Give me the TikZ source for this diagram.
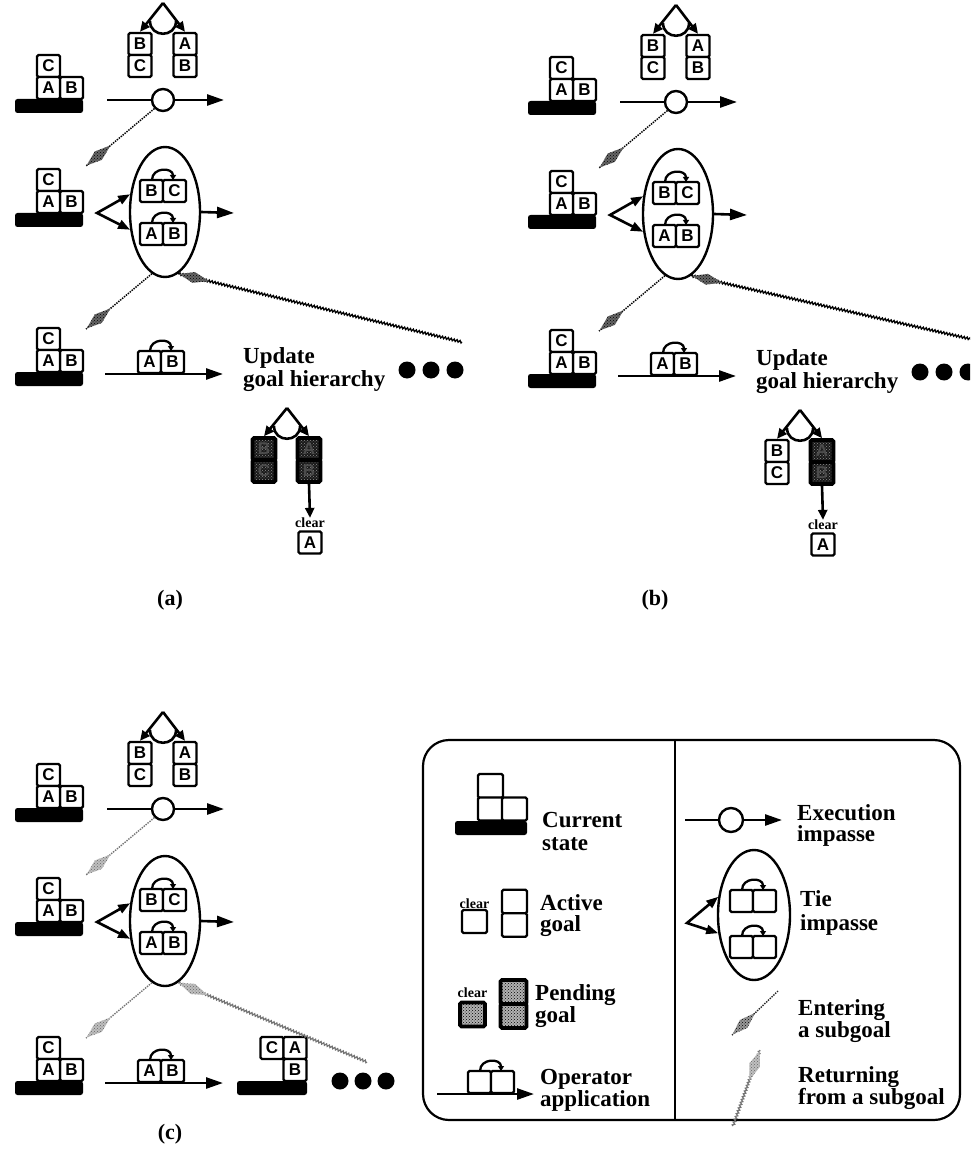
\documentclass[tikz,border=0pt]{standalone}
\usepackage{fontspec}
\setmainfont{Liberation Serif}
\newfontfamily\blockfont{Liberation Sans}
\usetikzlibrary{arrows.meta,calc,patterns,shapes.geometric,decorations.pathmorphing}

\tikzset{
  blk/.style={rectangle, draw=black, line width=2.4pt, fill=white, rounded corners=1.5pt,
    minimum width=23pt, minimum height=22pt, inner sep=0pt,
    font=\blockfont\bfseries\fontsize{17}{17}\selectfont},
  pend/.style={blk, line width=3.6pt, fill=none, preaction={fill=black!90},
    pattern=crosshatch dots, pattern color=black!45, text=black!70},
  lpend/.style={blk, line width=3.6pt, fill=none, preaction={fill=black!30},
    pattern=crosshatch dots, pattern color=black},
  tbl/.style={rectangle, fill=black, rounded corners=2.5pt, minimum width=68pt,
    minimum height=14pt, inner sep=0pt},
  circ/.style={circle, draw=black, line width=2.4pt, fill=white, minimum size=22pt, inner sep=0pt},
  tie/.style={ellipse, draw=black, line width=2.4pt, minimum width=70pt, minimum height=130pt, inner sep=0pt},
  conn/.style={line width=2.6pt},
  tip/.style={-{Triangle[length=17pt,width=11pt]}},
  fork/.style={{Triangle[length=12pt,width=9pt]}-{Triangle[length=12pt,width=9pt]}},
  ttip/.style={-{Triangle[length=10pt,width=9pt]}},
  oparc/.style={line width=2.3pt, -{Triangle[length=5pt,width=6pt]}},
  heavyline/.style={line width=1.5pt, dash pattern=on 1.4pt off 1.1pt, black},
  heavyhead/.style={preaction={fill=black!60}, pattern=crosshatch dots, pattern color=black},
  heavyzig/.style={line width=1.3pt, black, decorate, decoration={zigzag, segment length=3pt, amplitude=1.1pt}},
  midline/.style={line width=1.4pt, dash pattern=on 1.4pt off 1.1pt, black!85},
  midhead/.style={preaction={fill=black!40}, pattern=crosshatch dots, pattern color=black},
  paleline/.style={line width=1.4pt, dash pattern=on 1.4pt off 1.1pt, black!55},
  palehead/.style={preaction={fill=black!25}, pattern=crosshatch dots, pattern color=black!60},
  palezig/.style={line width=1.2pt, black!55, decorate, decoration={zigzag, segment length=3pt, amplitude=1.1pt}},
  txt/.style={font=\bfseries\fontsize{23}{23}\selectfont, anchor=base west, inner sep=0pt},
  clr/.style={font=\bfseries\fontsize{14}{14}\selectfont, inner sep=0pt},
  dot/.style={circle, fill=black, minimum size=17pt, inner sep=0pt},
  tag/.style={font=\bfseries\fontsize{22}{22}\selectfont, inner sep=0pt},
}

% three blocks C / A B on a table; #2 is the y of the table top
\newcommand\stackstate[2]{%
  \node[blk] (#1C) at (48.5,#2-33) {C};
  \node[blk] (#1B) at (71.5,#2-11) {B};
  \node[blk] (#1A) at (48.5,#2-11) {A};
  \node[tbl] (#1T) at (49,#2+7) {};
}

% operator glyph: two blocks with a move arc; #2 left x, #3 bottom y
\newcommand\opglyph[5]{%
  \node[blk] (#1L) at (#2+11.5,#3-11) {#4};
  \node[blk] (#1R) at (#2+34.5,#3-11) {#5};
  \draw[oparc] (#2+12,#3-22) .. controls (#2+12,#3-35) and (#2+33,#3-35) .. (#2+33,#3-22);
}

% AND goal tree: #2 centre x, #3 column top y, #4/#5 block styles
\newcommand\goaltree[9]{%
  \coordinate (#1apex) at (#2,#3-30);
  \node[#4] (#1l1) at (#2-23,#3+11) {#6};
  \node[#4] (#1l2) at (#2-23,#3+33) {#7};
  \node[#5] (#1r1) at (#2+22,#3+11) {#8};
  \node[#5] (#1r2) at (#2+22,#3+33) {#9};
  \draw[conn,ttip] (#1apex) -- (#1l1.north);
  \draw[conn,ttip] (#1apex) -- (#1r1.north);
  \draw[conn] (#2-13,#3-12) .. controls (#2-13,#3+5) and (#2+13,#3+5) .. (#2+13,#3-12);
}

% subgoal arrows with a stippled head
\newcommand\goalenter[3]{%
  \draw[#1line] (#2) -- (#3);
  \coordinate (gm) at ($(#3)!16pt!(#2)$);
  \fill[#1head] ($(#3)!32pt!(#2)$) -- ($(gm)!5.5pt!90:(#3)$) -- ($(#3)!1pt!(#2)$)
     -- ($(gm)!5.5pt!-90:(#3)$) -- cycle;
}
\newcommand\goalreturn[3]{%
  \draw[#1zig] (#2) -- (#3);
  \coordinate (gm) at ($(#3)!16pt!(#2)$);
  \fill[#1head] ($(#3)!32pt!(#2)$) -- ($(gm)!5.5pt!90:(#3)$) -- ($(#3)!1pt!(#2)$)
     -- ($(gm)!5.5pt!-90:(#3)$) -- cycle;
}

% the three rows shared by every trace
\newcommand\upperrows[2]{%
  \stackstate{#1s1}{99}
  \goaltree{#1g}{163}{33}{blk}{blk}{B}{C}{A}{B}
  \coordinate (#1x0) at (107,100);
  \node[circ] (#1circ) at (163,100) {};
  \coordinate (#1x1) at (224,100);
  \draw[conn] (#1x0) -- (#1circ);
  \draw[conn,tip] (#1circ) -- (#1x1);
  \stackstate{#1s2}{213}
  \node[tie] (#1tie) at (165,212) {};
  \opglyph{#1bc}{140}{202}{B}{C}
  \opglyph{#1ab}{140}{245}{A}{B}
  \coordinate (#1fork) at (97,213);
  \draw[conn,fork] (#1tie.153) -- (#1fork) -- (#1tie.207);
  \coordinate (#1tout) at (234,213);
  \draw[conn,tip] (#1tie.east) -- (#1tout);
  \stackstate{#1s3}{372}
  \coordinate (#1o0) at (105,374);
  \coordinate (#1o1) at (223,374);
  \draw[conn,tip] (#1o0) -- (#1o1);
  \opglyph{#1op}{138}{373}{A}{B}
  \coordinate (#1e1) at (86,166);
  \goalenter{#2}{#1circ.225}{#1e1}
  \coordinate (#1e2) at (86,329);
  \goalenter{#2}{#1tie.258}{#1e2}
}

\begin{document}
\begin{tikzpicture}[x=1pt,y=-1pt]
\useasboundingbox (0,0) rectangle (970,1150);
\clip (0,0) rectangle (970,1150);

% ---------- trace (a)
\upperrows{a}{heavy}
\node[txt] (aup1) at (243,363) {Update};
\node[txt] (aup2) at (243,386) {goal hierarchy};
\node[dot] (ad1) at (407,370) {};
\node[dot] (ad2) at (431,370) {};
\node[dot] (ad3) at (455,370) {};
\coordinate (aret) at (462,342);
\goalreturn{heavy}{aret}{atie.282}
\goaltree{agt}{287}{438}{pend}{pend}{B}{C}{A}{B}
\node[clr] (aclr) at (310,523) {clear};
\node[blk] (aclA) at (310,542.5) {A};
\draw[conn,ttip] (agtr2.south) -- (aclr.north);
\node[tag] (alab) at (170,600) {(a)};

% ---------- trace (b)
\begin{scope}[shift={(513,2)}]
\upperrows{b}{heavy}
\node[txt] (bup1) at (243,363) {Update};
\node[txt] (bup2) at (243,386) {goal hierarchy};
\node[dot] (bd1) at (407,370) {};
\node[dot] (bd2) at (431,370) {};
\node[dot] (bd3) at (455,370) {};
\coordinate (bret) at (462,338);
\goalreturn{heavy}{bret}{btie.282}
\goaltree{bgt}{287}{438}{blk}{pend}{B}{C}{A}{B}
\node[clr] (bclr) at (310,523) {clear};
\node[blk] (bclA) at (310,542.5) {A};
\draw[conn,ttip] (bgtr2.south) -- (bclr.north);
\node[tag] (blab) at (142,598) {(b)};
\end{scope}

% ---------- trace (c)
\begin{scope}[shift={(0,709)}]
\upperrows{c}{pale}
\node[blk] (cfC) at (272,339) {C};
\node[blk] (cfA) at (295,339) {A};
\node[blk] (cfB) at (295,361) {B};
\node[tbl, minimum width=70pt] (cfT) at (272,379) {};
\node[dot] (cd1) at (340,372) {};
\node[dot] (cd2) at (363,372) {};
\node[dot] (cd3) at (386,372) {};
\coordinate (cret) at (367,353);
\goalreturn{pale}{cret}{ctie.282}
\node[tag] (clab) at (170,425) {(c)};
\end{scope}

% ---------- key
\draw[line width=2.2pt, rounded corners=26pt] (423,740) rectangle (960,1120);
\draw[line width=2.2pt] (675,740) -- (675,1120);

% current state
\node[blk, minimum width=25pt, minimum height=24pt] (lcs1) at (490.5,786) {};
\node[blk, minimum width=25pt, minimum height=23pt] (lcs2) at (490.5,809) {};
\node[blk, minimum width=25pt, minimum height=23pt] (lcs3) at (514.5,809) {};
\node[tbl, minimum width=72pt] (lcsT) at (491,828) {};
\node[txt] (lcst1) at (542,827) {Current};
\node[txt] (lcst2) at (542,850) {state};

% active goal
\node[clr] (lac) at (474.5,904) {clear};
\node[blk, minimum width=25pt, minimum height=23pt] (la1) at (474.5,921.5) {};
\node[blk, minimum width=25pt, minimum height=23.5pt] (la2) at (514.5,901.5) {};
\node[blk, minimum width=25pt, minimum height=23.5pt] (la3) at (514.5,925) {};
\node[txt] (lat1) at (540,910) {Active};
\node[txt] (lat2) at (540,931) {goal};

% pending goal
\node[clr] (lpc) at (472.5,993) {clear};
\node[lpend, minimum width=25pt, minimum height=24pt] (lp1) at (472.5,1014.5) {};
\node[lpend, minimum width=26pt, minimum height=24pt] (lp2) at (513.5,992) {};
\node[lpend, minimum width=26pt, minimum height=24pt] (lp3) at (513.5,1016) {};
\node[txt] (lpt1) at (535,1000) {Pending};
\node[txt] (lpt2) at (535,1022) {goal};

% operator application
\coordinate (lop0) at (437,1094);
\coordinate (lop1) at (534,1094);
\draw[conn,tip] (lop0) -- (lop1);
\opglyph{lop}{468}{1093}{}{}
\node[txt] (lopt1) at (540,1084) {Operator};
\node[txt] (lopt2) at (540,1106) {application};

% execution impasse
\coordinate (lex0) at (685,820);
\node[circ, minimum size=24pt] (lexc) at (731,820) {};
\coordinate (lex1) at (782,820);
\draw[conn] (lex0) -- (lexc);
\draw[conn,tip] (lexc) -- (lex1);
\node[txt] (lext1) at (797,820) {Execution};
\node[txt] (lext2) at (797,841) {impasse};

% tie impasse
\node[tie, minimum width=72pt] (ltie) at (754,915) {};
\opglyph{lt1}{730}{912}{}{}
\opglyph{lt2}{730}{958}{}{}
\coordinate (lfork) at (687,923);
\draw[conn,fork] (ltie.153) -- (lfork) -- (ltie.207);
\node[txt] (ltt1) at (800,906) {Tie};
\node[txt] (ltt2) at (800,930) {impasse};

% entering a subgoal
\coordinate (len0) at (778,991);
\coordinate (len1) at (732,1035);
\goalenter{mid}{len0}{len1}
\node[txt] (lent1) at (798,1015) {Entering};
\node[txt] (lent2) at (798,1037) {a subgoal};

% returning from a subgoal
\coordinate (lre0) at (733,1126);
\coordinate (lre1) at (760,1050);
\goalreturn{pale}{lre0}{lre1}
\node[txt] (lret1) at (798,1082) {Returning};
\node[txt] (lret2) at (798,1104) {from a subgoal};
\end{tikzpicture}
\end{document}
